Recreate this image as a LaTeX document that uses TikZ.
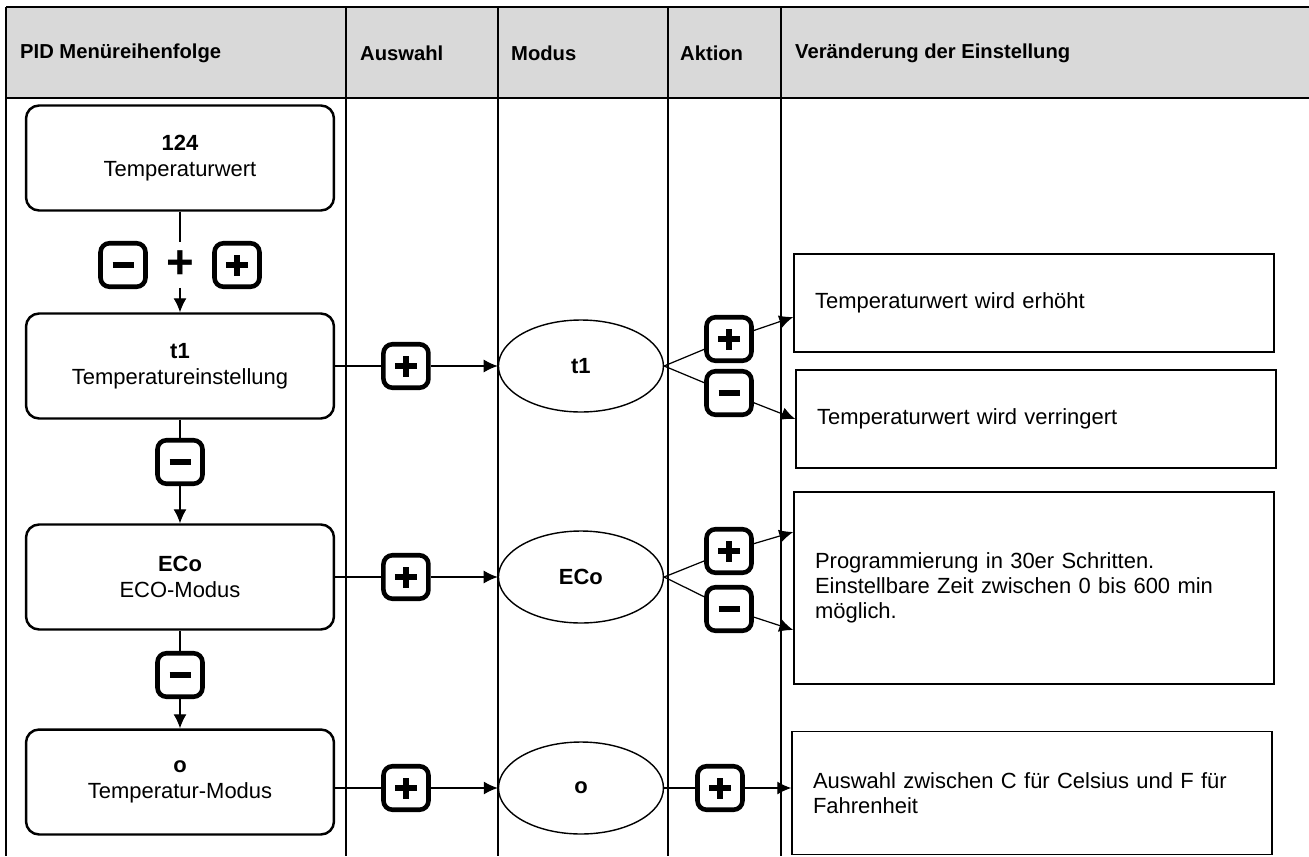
\documentclass[tikz,border=0pt]{standalone}
\usepackage{fontspec}
\setmainfont{Liberation Sans}
\usepackage{tikz}
\usetikzlibrary{calc,arrows.meta,positioning,shapes.geometric}

\begin{document}
\begin{tikzpicture}[>={Latex[length=2.8mm,width=2.6mm]}, x=0.02cm, y=-0.02cm, line/.style={draw=black, line width=0.7pt}, grid/.style={draw=black, line width=1.5pt}]
    % Define styles for menu boxes, modes, keys and notes
    \tikzstyle{menu} = [draw, fill=white, rectangle, rounded corners=2.6mm, line width=1.4pt, minimum height=2.1cm, minimum width=6.16cm, align=center, font=\fontsize{12.5}{15}\selectfont]
    \tikzstyle{mode} = [draw, fill=white, ellipse, line width=0.8pt, minimum width=3.3cm, minimum height=1.84cm, font=\fontsize{12.5}{15}\selectfont\bfseries]
    \tikzstyle{note} = [draw, fill=white, rectangle, line width=0.9pt, text width=8.76cm, inner xsep=0.42cm, align=left, font=\fontsize{12.5}{14.4}\selectfont]
    \tikzstyle{key} = [draw, fill=white, rectangle, rounded corners=1.8mm, line width=2.6pt, minimum width=0.9cm, minimum height=0.87cm, inner sep=0pt]
    \tikzstyle{keyplus} = [key, path picture={\draw[line width=0.11cm] ([xshift=-0.22cm]path picture bounding box.center) -- ([xshift=0.22cm]path picture bounding box.center) ([yshift=-0.21cm]path picture bounding box.center) -- ([yshift=0.21cm]path picture bounding box.center);}]
    \tikzstyle{keyminus} = [key, path picture={\draw[line width=0.11cm] ([xshift=-0.21cm]path picture bounding box.center) -- ([xshift=0.21cm]path picture bounding box.center);}]
    \tikzstyle{head} = [anchor=west, font=\fontsize{11.5}{14}\selectfont\bfseries]

    \useasboundingbox (0,0) rectangle (1309,856);

    % Table frame and header
    \fill[gray!30] (6,7) rectangle (1309,98);
    \draw[grid] (6,7) -- (1309,7) (6,98) -- (1309,98);
    \foreach \x in {6,346,498,668,781} \draw[grid] (\x,7) -- (\x,856);
    \node[head] (hmenu) at (14,53) {PID Menüreihenfolge};
    \node[head] (hsel) at (354,53) {Auswahl};
    \node[head] (hmode) at (505,53) {Modus};
    \node[head] (hact) at (674,53) {Aktion};
    \node[head] (hchange) at (789,53) {Veränderung der Einstellung};

    % Menu sequence
    \node [menu] (temp) at (180,158) {\textbf{124}\\Temperaturwert};
    \node [inner sep=0pt, minimum height=0.9cm, font=\fontsize{27}{27}\selectfont\bfseries] (both) at (180,265) {+};
    \node [keyminus, left=0.36cm of both] (dec0) {};
    \node [keyplus, right=0.36cm of both] (inc0) {};
    \node [menu] (tset) at (180,366) {\textbf{t1}\\Temperatureinstellung};
    \node [keyminus] (dec1) at (180,462) {};
    \node [menu] (eco) at (180,577) {\textbf{ECo}\\ECO-Modus};
    \node [keyminus] (dec2) at (180,675) {};
    \node [menu] (tmode) at (180,782) {\textbf{o}\\Temperatur-Modus};

    % Selection keys and modes
    \node [keyplus, right of=tset, node distance=4.52cm] (sel1) {};
    \node [mode, right of=sel1, node distance=3.5cm] (mset) {t1};
    \node [keyplus, right of=eco, node distance=4.52cm] (sel2) {};
    \node [mode, right of=sel2, node distance=3.5cm] (meco) {ECo};
    \node [keyplus] (sel3) at (406,788) {};
    \node [mode, right of=sel3, node distance=3.5cm] (mtmode) {o};

    % Action keys
    \node [keyplus] (up1) at (729,339) {};
    \node [keyminus] (dn1) at (729,393) {};
    \node [keyplus] (up2) at (729,551) {};
    \node [keyminus] (dn2) at (729,609) {};
    \node [keyplus] (act3) at (720,788) {};

    % Notes
    \node [note, minimum height=1.96cm] (noteup) at (1034,303) {Temperaturwert wird erhöht};
    \node [note, minimum height=1.96cm] (notedn) at (1036,419) {Temperaturwert wird verringert};
    \node [note, minimum height=3.84cm] (noteeco) at (1034,588) {Programmierung in 30er Schritten.\\Einstellbare Zeit zwischen 0 bis 600 min\\möglich.};
    \node [note, minimum height=2.46cm] (notemode) at (1032,793) {Auswahl zwischen C für Celsius und F für\\Fahrenheit};

    % Draw edges
    \draw[line] (temp) -- (both);
    \draw[line,->] (both) -- (tset);
    \draw[line] (tset) -- (dec1);
    \draw[line,->] (dec1) -- (eco);
    \draw[line] (eco) -- (dec2);
    \draw[line,->] (dec2) -- (tmode);

    \draw[line] (tset) -- (sel1);
    \draw[line,->] (sel1) -- (mset);
    \draw[line] (eco) -- (sel2);
    \draw[line,->] (sel2) -- (meco);
    \draw[line] (tmode.east |- sel3) -- (sel3);
    \draw[line,->] (sel3) -- (mtmode);

    % Forks to the action keys
    \draw[line] (mset.east) -- (up1);
    \draw[line] (mset.east) -- (dn1);
    \draw[line,->] (up1) -- ([yshift=-0.28cm]noteup.west);
    \draw[line,->] (dn1) -- (notedn.west);
    \draw[line] (meco.east) -- (up2);
    \draw[line] (meco.east) -- (dn2);
    \draw[line,->] (up2) -- ([yshift=1.12cm]noteeco.west);
    \draw[line,->] (dn2) -- ([yshift=-0.84cm]noteeco.west);
    \draw[line] (mtmode) -- (act3);
    \draw[line,->] (act3) -- (notemode.west |- act3);
\end{tikzpicture}
\end{document}
